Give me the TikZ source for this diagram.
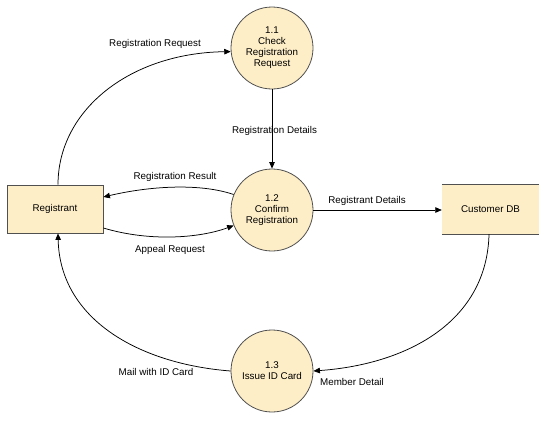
\documentclass[tikz,border=0pt]{standalone}
\usepackage{fontspec}
\setmainfont{Liberation Sans}
\usetikzlibrary{arrows.meta}
\definecolor{procfill}{RGB}{254,238,199}
\definecolor{procline}{RGB}{80,80,80}
\begin{document}
\begin{tikzpicture}[x=1pt,y=-1pt,
  every node/.style={font=\fontsize{9.8}{11}\selectfont},
  proc/.style={circle,draw=procline,fill=procfill,line width=0.8pt,minimum size=82pt,inner sep=0pt,align=center},
  ent/.style={rectangle,draw=procline,fill=procfill,line width=0.8pt,minimum width=96pt,minimum height=48pt,inner sep=0pt},
  store/.style={rectangle,fill=procfill,minimum width=97pt,minimum height=49pt,inner sep=0pt},
  flow/.style={line width=0.75pt,-{Triangle[length=6.5pt,width=5.5pt]}},
  lbl/.style={inner sep=0pt}]
\useasboundingbox (0,0) rectangle (540,421);
\node[proc] (c1) at (272,48) {1.1\\Check\\Registration\\Request};
\node[proc] (c2) at (272,210) {1.2\\Confirm\\Registration};
\node[proc] (c3) at (272,371) {1.3\\Issue ID Card};
\node[ent] (reg) at (55,209) {Registrant};
\node[store] (db) at (490.5,209.5) {Customer DB};
\draw[procline,line width=0.8pt] (db.north west) -- (db.north east) (db.south west) -- (db.south east);
% connectors
\draw[flow] ([xshift=3pt]reg.north) .. controls (58,110) and (130,53) .. (c1.185);
\draw[flow] (c1.south) -- (c2.north);
\draw[flow] (c2.158) .. controls (200,183) and (150,186) .. ([yshift=12pt]reg.east);
\draw[flow] ([yshift=-19pt]reg.east) .. controls (150,242) and (200,238) .. (c2.202);
\draw[flow] (c2.east) -- (c2.east -| db.west);
\draw[flow] ([xshift=-1.5pt]db.south) .. controls (487,320) and (410,364) .. (c3.east);
\draw[flow] (c3.west) .. controls (140,364) and (60,320) .. ([xshift=3pt]reg.south);
% labels
\node[lbl] (l1) at (155,44) {Registration Request};
\node[lbl] (l2) at (274.5,131) {Registration Details};
\node[lbl] (l3) at (175,177) {Registration Result};
\node[lbl] (l4) at (170,250) {Appeal Request};
\node[lbl] (l5) at (367,201) {Registrant Details};
\node[lbl] (l6) at (352,382) {Member Detail};
\node[lbl] (l7) at (156,372) {Mail with ID Card};
\end{tikzpicture}
\end{document}
